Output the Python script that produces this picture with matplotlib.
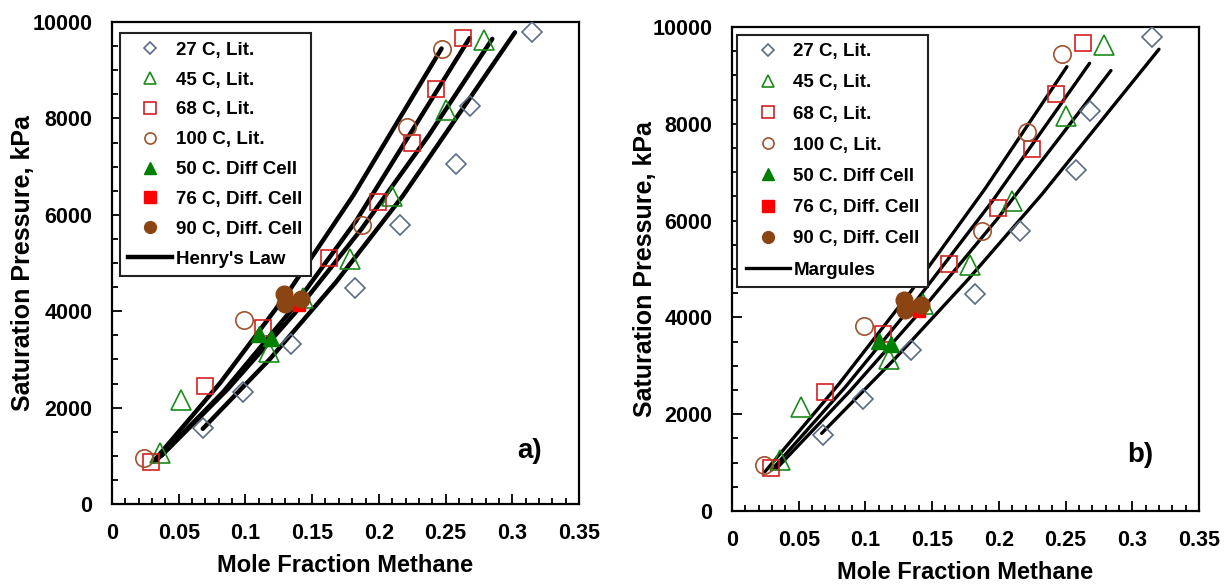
import matplotlib
matplotlib.use('Agg')
import matplotlib.pyplot as plt
from matplotlib.lines import Line2D
from matplotlib.ticker import MultipleLocator

plt.rcParams['font.family'] = ['Liberation Sans', 'DejaVu Sans']
plt.rcParams['font.weight'] = 'bold'

# ---------------- data ----------------
lit27_x = [0.068, 0.098, 0.134, 0.182, 0.216, 0.258, 0.268, 0.315]
lit27_y = [1580, 2320, 3320, 4480, 5790, 7050, 8260, 9790]
lit45_x = [0.036, 0.052, 0.118, 0.143, 0.178, 0.210, 0.250, 0.279]
lit45_y = [1050, 2150, 3150, 4270, 5080, 6400, 8170, 9630]
lit68_x = [0.029, 0.070, 0.113, 0.163, 0.199, 0.225, 0.243, 0.263]
lit68_y = [880, 2450, 3650, 5100, 6270, 7480, 8610, 9660]
lit100_x = [0.024, 0.099, 0.187, 0.221, 0.247]
lit100_y = [950, 3820, 5790, 7830, 9450]
dc50_x = [0.110, 0.119]
dc50_y = [3520, 3450]
dc76_x = [0.131, 0.140]
dc76_y = [4200, 4130]
dc90_x = [0.129, 0.130, 0.142]
dc90_y = [4360, 4150, 4250]

# Henry's law curves (panel a)
henry100_x = [0.031, 0.081, 0.131, 0.181, 0.247]
henry100_y = [880, 2510, 4350, 6410, 9450]
henry68_x = [0.033, 0.083, 0.133, 0.183, 0.268]
henry68_y = [900, 2316, 3975, 5876, 9666]
henry45_x = [0.037, 0.087, 0.137, 0.187, 0.237, 0.285]
henry45_y = [1000, 2390, 3958, 5706, 7632, 9650]
henry27_x = [0.068, 0.118, 0.168, 0.218, 0.302]
henry27_y = [1560, 2997, 4608, 6394, 9785]

# Margules curves (panel b)
marg100_x = [0.0247, 0.080, 0.135, 0.190, 0.251]
marg100_y = [812, 2619, 4571, 6672, 9180]
marg68_x = [0.0297, 0.085, 0.140, 0.195, 0.268]
marg68_y = [847, 2564, 4414, 6397, 9250]
marg45_x = [0.0335, 0.0885, 0.1435, 0.1985, 0.284]
marg45_y = [882, 2480, 4194, 6024, 9100]
marg27_x = [0.0672, 0.122, 0.177, 0.232, 0.320]
marg27_y = [1605, 3143, 4786, 6534, 9540]

labels = ["27 C, Lit.", "45 C, Lit.", "68 C, Lit.", "100 C, Lit.",
          "50 C. Diff Cell", "76 C, Diff. Cell", "90 C, Diff. Cell"]

# ---------------- styles ----------------
styles = [
    dict(marker='D', ms=10, mfc='none', mec='#5b6b84', mew=1.2),
    dict(marker='^', ms=14, mfc='none', mec='#1a8a1a', mew=1.2),
    dict(marker='s', ms=11, mfc='none', mec='#d42020', mew=1.2),
    dict(marker='o', ms=12.5, mfc='none', mec='#a0522d', mew=1.2),
    dict(marker='^', ms=11, mfc='#008000', mec='#008000', mew=1),
    dict(marker='s', ms=8.5, mfc='#ff0000', mec='#ff0000', mew=1),
    dict(marker='o', ms=12, mfc='#8b4513', mec='#8b4513', mew=1),
]
legend_ms = [6.2, 8, 8, 8, 8, 8, 8.5]

series = [(lit27_x, lit27_y), (lit45_x, lit45_y), (lit68_x, lit68_y),
          (lit100_x, lit100_y), (dc50_x, dc50_y), (dc76_x, dc76_y),
          (dc90_x, dc90_y)]

fig = plt.figure(figsize=(12.27, 5.84), dpi=100)
axL = fig.add_axes([112/1227, 80/584, 467/1227, 482/584])
axR = fig.add_axes([732/1227, 73/584, 467/1227, 484/584])


def setup(ax, curves, lw, line_label, tag, tag_pos, leg_anchor, leg_spacing, ylpad):
    for cx, cy in curves:
        ax.plot(cx, cy, color='black', lw=lw, solid_capstyle='round', zorder=2)
    for (sx, sy), st in zip(series, styles):
        ax.plot(sx, sy, ls='none', zorder=3, **st)
    ax.set_xlim(0, 0.35)
    ax.set_ylim(0, 10000)
    ax.xaxis.set_minor_locator(MultipleLocator(0.01))
    ax.yaxis.set_major_locator(MultipleLocator(2000))
    ax.yaxis.set_minor_locator(MultipleLocator(500))
    ax.set_xticks([0, 0.05, 0.1, 0.15, 0.2, 0.25, 0.3, 0.35])
    ax.set_xticklabels(['0', '0.05', '0.1', '0.15', '0.2', '0.25', '0.3', '0.35'])
    ax.tick_params(which='both', direction='in', top=False, right=False,
                   labelsize=15.5, width=1.3)
    ax.tick_params(which='major', length=7, pad=14)
    ax.tick_params(which='minor', length=4.5)
    for sp in ax.spines.values():
        sp.set_linewidth(1.6)
    ax.set_xlabel('Mole Fraction Methane', fontsize=17, fontweight='bold', labelpad=7)
    ax.set_ylabel('Saturation Pressure, kPa', fontsize=18, fontweight='bold', labelpad=ylpad)
    ax.text(tag_pos[0], tag_pos[1], tag, transform=ax.transAxes, fontsize=20,
            fontweight='bold', ha='center', va='center')
    handles = []
    for st, lms in zip(styles, legend_ms):
        d = dict(st)
        d['ms'] = lms
        handles.append(Line2D([], [], ls='none', **d))
    handles.append(Line2D([], [], color='black', lw=lw))
    leg = ax.legend(handles, labels + [line_label], loc='upper left',
                    bbox_to_anchor=leg_anchor, borderaxespad=0,
                    fontsize=13.5, frameon=True, fancybox=False,
                    edgecolor='#222222', framealpha=1, borderpad=0.45,
                    handlelength=2.35, handletextpad=0.2,
                    labelspacing=leg_spacing)
    leg.get_frame().set_linewidth(1.5)
    for t in leg.get_texts():
        t.set_fontweight('bold')


setup(axL, [(henry100_x, henry100_y), (henry68_x, henry68_y),
            (henry45_x, henry45_y), (henry27_x, henry27_y)],
      3.2, "Henry's Law", 'a)', (0.895, 0.11), (0.017, 0.977), 0.68, -2)
setup(axR, [(marg100_x, marg100_y), (marg68_x, marg68_y),
            (marg45_x, marg45_y), (marg27_x, marg27_y)],
      2.4, 'Margules', 'b)', (0.874, 0.116), (0.011, 0.984), 0.75, -3)

fig.savefig('out.png', dpi=100)
